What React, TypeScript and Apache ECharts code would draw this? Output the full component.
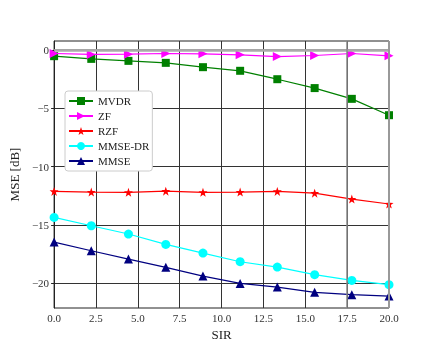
import React, { useEffect, useRef } from "react";
import * as echarts from "echarts";

const sir = [0, 2.22, 4.44, 6.67, 8.89, 11.11, 13.33, 15.56, 17.78, 20];
const mvdr = [-0.55, -0.78, -0.95, -1.12, -1.49, -1.8, -2.52, -3.28, -4.2, -5.6];
const zf = [-0.32, -0.4, -0.38, -0.32, -0.35, -0.43, -0.58, -0.49, -0.32, -0.52];
const rzf = [-12.12, -12.18, -12.2, -12.1, -12.2, -12.18, -12.12, -12.27, -12.78, -13.2];
const mmseDr = [-14.35, -15.06, -15.77, -16.66, -17.4, -18.14, -18.6, -19.25, -19.74, -20.1];
const mmse = [-16.46, -17.2, -17.91, -18.62, -19.37, -20.0, -20.31, -20.76, -20.96, -21.08];
const yTicks = [0, -5, -10, -15, -20];
const xTicks = [0, 2.5, 5, 7.5, 10, 12.5, 15, 17.5, 20];

const STAR =
  "path://M0,-10 L2.35,-3.24 L9.51,-3.09 L3.8,1.24 L5.88,8.09 L0,4 L-5.88,8.09 L-3.8,1.24 L-9.51,-3.09 L-2.35,-3.24 Z";
const FONT = "'Liberation Serif', serif";

export default function App() {
  const ref = useRef<HTMLDivElement>(null);
  useEffect(() => {
    if (!ref.current) return;
    const chart = echarts.init(ref.current, undefined, { renderer: "svg" });
    const pair = (ys: number[]) => sir.map((x, i) => [x, ys[i]]);
    const mk = (name: string, ys: number[], color: string, symbol: string, size: number, rotate = 0, extra: any = {}) => ({
      name,
      type: "line",
      data: pair(ys),
      symbol,
      symbolSize: size,
      symbolRotate: rotate,
      showAllSymbol: true,
      lineStyle: { color, width: 1.2 },
      itemStyle: { color, borderWidth: 0 },
      ...extra,
    });
    chart.setOption({
      animation: false,
      textStyle: { fontFamily: FONT },
      grid: {
        left: 54,
        right: 43,
        top: 41,
        bottom: 38,
        show: true,
        borderColor: "#222",
        borderWidth: 1,
      },
      legend: {
        orient: "vertical",
        left: 65,
        top: 91,
        padding: [4, 3, 4, 3],
        itemWidth: 24,
        itemHeight: 10,
        itemGap: 3,
        borderColor: "#ccc",
        borderWidth: 1,
        borderRadius: 3,
        backgroundColor: "#fff",
        textStyle: { fontFamily: FONT, fontSize: 11, color: "#222", lineHeight: 12 },
        data: ["MVDR", "ZF", "RZF", "MMSE-DR", "MMSE"],
      },
      xAxis: {
        type: "value",
        min: 0,
        max: 20,
        interval: 2.5,
        name: "SIR",
        nameLocation: "middle",
        nameGap: 14,
        nameTextStyle: { fontFamily: FONT, fontSize: 13, color: "#222", verticalAlign: "top" },
        axisLine: { show: true, lineStyle: { color: "#999", width: 2 } },
        axisTick: { show: true, length: 3, inside: false, lineStyle: { color: "#222" } },
        axisLabel: {
          fontFamily: FONT,
          fontSize: 11,
          color: "#333",
          margin: 4,
          customValues: xTicks,
          formatter: (v: number) => v.toFixed(1),
        },
        splitLine: { show: true, lineStyle: { color: "#333", width: 1 } },
      },
      yAxis: {
        type: "value",
        min: -22.1,
        max: 0.75,
        name: "MSE [dB]",
        nameLocation: "middle",
        nameGap: 27,
        nameTextStyle: { fontFamily: FONT, fontSize: 13, color: "#222" },
        axisLine: { show: true, lineStyle: { color: "#222", width: 1 } },
        axisTick: { show: true, length: 3, customValues: yTicks, lineStyle: { color: "#222" } },
        axisLabel: {
          fontFamily: FONT,
          fontSize: 11,
          color: "#333",
          margin: 5,
          customValues: yTicks,
          formatter: (v: number) => (v < 0 ? "\u2212" + Math.abs(v) : String(v)),
        },
        splitLine: { show: true, lineStyle: { color: "#333", width: 1 } },
      },
      series: [
        mk("MVDR", mvdr, "#008000", "rect", 8, 0, {
          markLine: {
            silent: true,
            symbol: "none",
            label: { show: false },
            data: [
              { yAxis: 0, lineStyle: { color: "#aaa", width: 2.5, type: "solid" } },
              { xAxis: 20, lineStyle: { color: "#999", width: 2, type: "solid" } },
              { xAxis: 17.5, lineStyle: { color: "#888", width: 1.5, type: "solid" } },
            ],
          },
          z: 3,
        }),
        mk("ZF", zf, "#ff00ff", "triangle", 9, -90, { z: 4 }),
        mk("RZF", rzf, "#ff0000", STAR, 9),
        mk("MMSE-DR", mmseDr, "#00ffff", "circle", 9),
        mk("MMSE", mmse, "#000080", "triangle", 9),
      ],
    });
    return () => chart.dispose();
  }, []);
  return <div ref={ref} style={{ position: "fixed", left: 0, top: 0, width: 432, height: 346 }} />;
}
